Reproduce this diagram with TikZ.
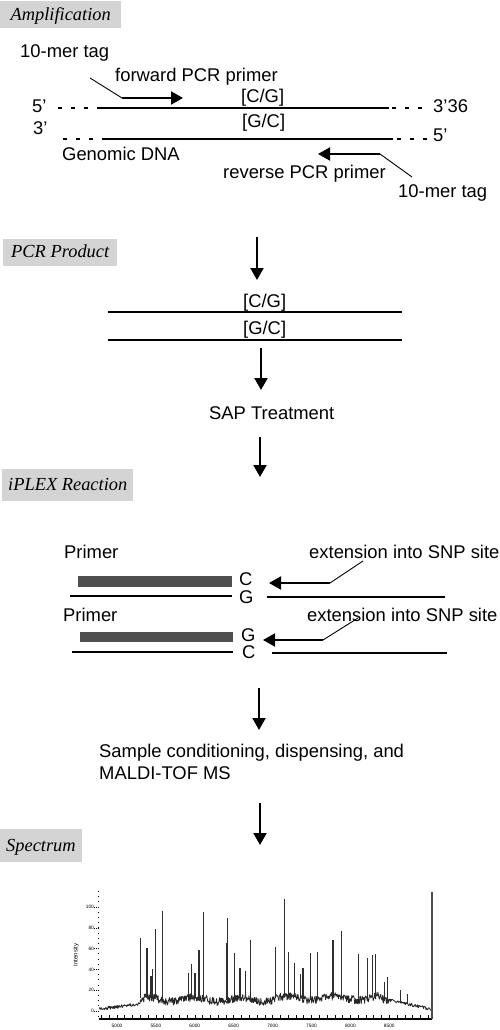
\documentclass[tikz,border=0pt]{standalone}
\usepackage{fontspec}
\setmainfont{Liberation Serif}
\setsansfont{Liberation Sans}
\usetikzlibrary{arrows.meta}
\definecolor{headgray}{HTML}{D4D4D4}
\definecolor{bargray}{HTML}{4F4F4F}
\definecolor{specgray}{HTML}{2E2E2E}
\newcommand{\lblfont}{\sffamily\fontsize{18.4}{22}\selectfont}
\newcommand{\headfont}{\rmfamily\itshape\fontsize{18.4}{22}\selectfont}
\newcommand{\tinyfont}{\sffamily\fontsize{4.8}{5}\selectfont}

\begin{document}
\begin{tikzpicture}[x=1pt,y=-1pt,
    head/.style={fill=headgray,font=\headfont,anchor=west,inner xsep=6pt,inner ysep=0pt,
      minimum height=27pt,text height=13.5pt,text depth=2.5pt},
    lbl/.style={font=\lblfont,anchor=base west,inner sep=0pt},
    strand/.style={line width=1.8pt},
    strandend/.style={line width=1.8pt,dash pattern=on 3.5pt off 9.5pt},
    leader/.style={line width=0.9pt},
    link/.style={line width=2pt,-{Triangle[length=12pt,width=13pt]}},
    primerbar/.style={fill=bargray},
    trace/.style={line width=0.8pt,black!85,line join=round},
    peak/.style={line width=1.2pt,specgray},
    ticklbl/.style={font=\tinyfont,inner sep=0pt},
    declare function={
      bl(\m)=(\m<3) ? (2+0.9*max(\m+2.3,0)) : ((\m<34) ? (11+2*sin(60*\m-150)+1.5*(\m>20)) : (12-1.6*(\m-34)));
      nz(\m)=and(\m>3,\m<35) ? 8 : 3;
    }]
\useasboundingbox (0,0) rectangle (500,1030);

\node[head,minimum width=121pt] (amp) at (0,15) {Amplification};
\node[head,minimum width=114pt] (pcr) at (3,252) {PCR Product};
\node[head,minimum width=129pt,minimum height=32pt] (iplex) at (2,485) {iPLEX Reaction};
\node[head,minimum width=78pt,minimum height=33pt] (spec) at (0,845.5) {Spectrum};

\node[lbl] (tagfwd) at (20,58) {10-mer tag};
\node[lbl] (fwdprimer) at (115,82) {forward PCR primer};
\node[lbl] (cgtop) at (241,103) {[C/G]};
\node[lbl] (fiveL) at (32,113) {5’};
\node[lbl] (threeR) at (433,113) {3’36};
\node[lbl] (gcbot) at (242,128) {[G/C]};
\node[lbl] (threeL) at (33,135) {3’};
\node[lbl] (fiveR) at (433,141) {5’};
\node[lbl] (genomic) at (62,160) {Genomic DNA};
\node[lbl] (revprimer) at (223,178) {reverse PCR primer};
\node[lbl] (tagrev) at (398,197) {10-mer tag};

\draw[strandend] (58,108) -- (97,108);
\draw[strand] (97,108) -- (389,108);
\draw[strandend] (392,108) -- (430,108);
\draw[strandend] (63,139) -- (100,139);
\draw[strand] (102,139) -- (393,139);
\draw[strandend] (397,139) -- (432,139);

\coordinate (fwdtail) at (90,78);
\coordinate (fwdbend) at (122,98);
\coordinate (fwdtip) at (183,98);
\draw[leader] (fwdtail) -- (fwdbend);
\draw[link] (fwdbend) -- (fwdtip);
\coordinate (revtail) at (412,177);
\coordinate (revbend) at (380,154);
\coordinate (revtip) at (318,154);
\draw[leader] (revtail) -- (revbend);
\draw[link] (revbend) -- (revtip);

\coordinate (a1) at (257,237);
\coordinate (b1) at (257,280);
\draw[link] (a1) -- (b1);
\node[lbl] (pcrcg) at (243,307) {[C/G]};
\draw[strand] (108,311.7) -- (402,311.7);
\node[lbl] (pcrgc) at (243,334) {[G/C]};
\draw[strand] (108,340) -- (402,340);
\coordinate (a2) at (261,348);
\coordinate (b2) at (261,390);
\draw[link] (a2) -- (b2);
\node[lbl] (sap) at (209,419) {SAP Treatment};
\coordinate (a3) at (260,437);
\coordinate (b3) at (260,477);
\draw[link] (a3) -- (b3);

\node[lbl] (primerA) at (64,558) {Primer};
\node[lbl] (extA) at (309,558) {extension into SNP site};
\fill[primerbar] (78,576) rectangle (232,587);
\node[lbl] (snpC) at (239,585.7) {C};
\draw[strand] (70,596) -- (232,596);
\node[lbl] (snpG) at (239,603) {G};
\draw[strand] (267,597) -- (445,597);
\coordinate (extAtail) at (363,561);
\coordinate (extAbend) at (330,583);
\coordinate (extAtip) at (269,583);
\draw[leader] (extAtail) -- (extAbend);
\draw[link] (extAbend) -- (extAtip);

\node[lbl] (primerB) at (63,621) {Primer};
\node[lbl] (extB) at (307,621) {extension into SNP site};
\fill[primerbar] (80,632) rectangle (233,642);
\node[lbl] (snpGb) at (241,641.7) {G};
\coordinate (extBtail) at (358,618);
\coordinate (extBbend) at (323,640);
\coordinate (extBtip) at (263,640);
\draw[leader] (extBtail) -- (extBbend);
\draw[link] (extBbend) -- (extBtip);
\draw[strand] (72,652) -- (233,652);
\node[lbl] (snpCb) at (242,658.7) {C};
\draw[strand] (272,653) -- (447,653);

\coordinate (a4) at (259,688);
\coordinate (b4) at (259,730);
\draw[link] (a4) -- (b4);
\node[lbl,align=left] (maldi) at (99,779) {Sample conditioning, dispensing, and\\MALDI-TOF MS};
\coordinate (a5) at (260,803);
\coordinate (b5) at (260,845);
\draw[link] (a5) -- (b5);

\begin{scope}[shift={(117,1011)},x=7.78pt,y=1.04pt]
  \pgfmathsetseed{4}
  \draw[trace] plot[domain=-2.3:40.45,samples=700,variable=\t] (\t,{bl(\t)+(rnd-0.5)*nz(\t)});
  \foreach \t/\h in {3.07/70,3.80/55,3.86/61,4.36/34,4.61/40,4.95/79,5.81/96,9.18/37,9.61/45,
      10.03/37,10.55/59,11.10/95,14.15/65,14.22/89,15.12/56,15.80/41,16.52/38,17.16/68,20.35/62,
      21.50/100,21.54/108,22.08/57,22.86/46,23.60/36,23.90/41,24.90/56,25.72/57,27.76/68,28.85/77,
      31.01/55,32.18/51,32.83/54,33.18/55,34.39/28,34.78/33,36.47/20,37.30/16}
    \draw[peak] (\t,{bl(\t)}) -- (\t,\h);
  \coordinate (xl) at (-2.31,-7.7);
  \coordinate (xr) at (40.49,-7.7);
  \coordinate (rtop) at (40.49,114.4);
  \draw[line width=1.4pt] (xl) -- (xr);
  \draw[line width=2pt,black!70] (xr) -- (rtop);
  \foreach \t in {-2,...,40}
    \draw[line width=0.6pt] (\t,-7.7) -- (\t,-4);
  \foreach \t/\v in {0/5000,5/5500,10/6000,15/6500,20/7000,25/7500,30/8000,35/8500}
    \node[ticklbl] (xt\v) at (\t,-14.5) {\v};
  \foreach \i in {-5,0,...,115}
    \draw[line width=0.7pt] (-2.31,\i) -- (-2.42,\i);
  \foreach \i in {0,20,...,100} {
    \draw[line width=0.6pt,dash pattern=on 1.2pt off 1pt] (-2.31,\i) -- (-2.9,\i);
    \node[ticklbl,anchor=east] (yt\i) at (-2.95,\i) {\i};
  }
\end{scope}
\node[font=\sffamily\fontsize{6}{7}\selectfont,rotate=90,inner sep=0pt] (intens) at (76,955) {Intensity};
\end{tikzpicture}
\end{document}
